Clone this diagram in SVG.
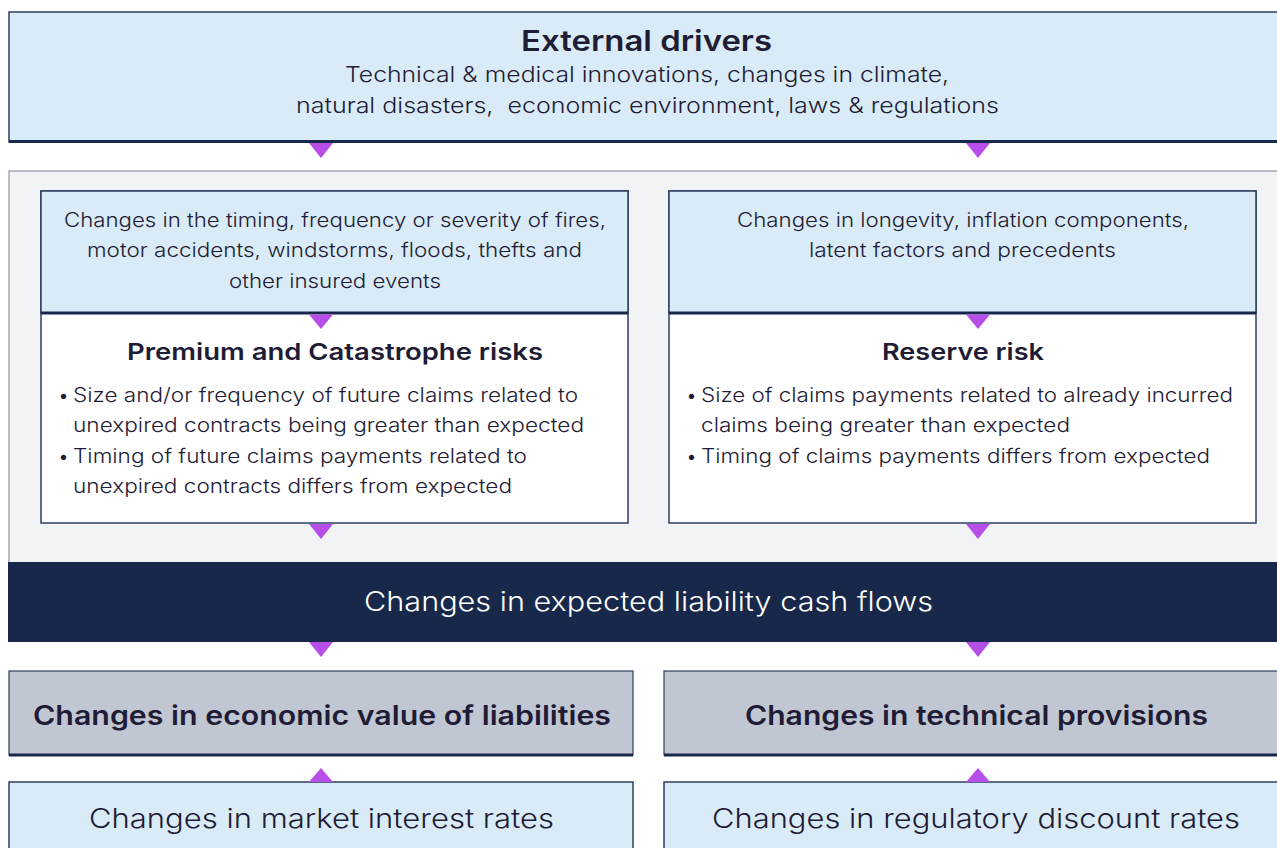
<svg xmlns="http://www.w3.org/2000/svg" width="1277" height="848" viewBox="0 0 1277 848">
<style>
text{font-family:Inter,"Open Sans","Liberation Sans",sans-serif;fill:#1f1c35;}
.body{font-size:19.5px;font-weight:300;}
.h{font-weight:600;}
.lb{fill:#d9ebf7;stroke:#2e3f60;stroke-width:1.5;}
.thick{stroke:#17284a;stroke-width:3;}
.arr{fill:#b84ee8;}
</style>
<rect width="1277" height="848" fill="#ffffff"/>
<g id="external-drivers">
<rect class="lb" x="9" y="12" width="1290" height="130"/>
<line class="thick" x1="9" y1="141.5" x2="1277" y2="141.5"/>
<text class="h" x="521" y="51" font-size="28" textLength="251" lengthAdjust="spacingAndGlyphs">External drivers</text>
<text x="345" y="82" font-size="22" font-weight="300" textLength="604" lengthAdjust="spacingAndGlyphs">Technical &amp; medical innovations, changes in climate,</text>
<text x="296" y="112.5" font-size="22" font-weight="300" textLength="703" lengthAdjust="spacingAndGlyphs" xml:space="preserve">natural disasters,  economic environment, laws &amp; regulations</text>
</g>
<g id="panel">
<rect x="9" y="171" width="1290" height="400" fill="#f2f3f5" stroke="#8d95a5" stroke-width="1.2"/>
</g>
<g id="premium-cat">
<rect x="41" y="191" width="587" height="332" fill="#ffffff" stroke="#2e3f60" stroke-width="1.5"/>
<rect class="lb" x="41" y="191" width="587" height="122"/>
<line class="thick" x1="41" y1="313" x2="628" y2="313"/>
<text class="body" x="64" y="227" textLength="542" lengthAdjust="spacingAndGlyphs">Changes in the timing, frequency or severity of fires,</text>
<text class="body" x="87" y="257" textLength="495" lengthAdjust="spacingAndGlyphs">motor accidents, windstorms, floods, thefts and</text>
<text class="body" x="229" y="288" textLength="212" lengthAdjust="spacingAndGlyphs">other insured events</text>
<text class="h" x="127" y="360" font-size="23" textLength="416" lengthAdjust="spacingAndGlyphs">Premium and Catastrophe risks</text>
<text class="body" x="58" y="402">•</text>
<text class="body" x="73" y="402" textLength="505" lengthAdjust="spacingAndGlyphs">Size and/or frequency of future claims related to</text>
<text class="body" x="73" y="432" textLength="511" lengthAdjust="spacingAndGlyphs">unexpired contracts being greater than expected</text>
<text class="body" x="58" y="463">•</text>
<text class="body" x="73" y="463" textLength="454" lengthAdjust="spacingAndGlyphs">Timing of future claims payments related to</text>
<text class="body" x="73" y="493" textLength="439" lengthAdjust="spacingAndGlyphs">unexpired contracts differs from expected</text>
</g>
<g id="reserve">
<rect x="669" y="191" width="587" height="332" fill="#ffffff" stroke="#2e3f60" stroke-width="1.5"/>
<rect class="lb" x="669" y="191" width="587" height="122"/>
<line class="thick" x1="669" y1="313" x2="1256" y2="313"/>
<text class="body" x="737" y="227" textLength="452" lengthAdjust="spacingAndGlyphs">Changes in longevity, inflation components,</text>
<text class="body" x="809" y="257" textLength="307" lengthAdjust="spacingAndGlyphs">latent factors and precedents</text>
<text class="h" x="882" y="360" font-size="23" textLength="162" lengthAdjust="spacingAndGlyphs">Reserve risk</text>
<text class="body" x="686" y="402">•</text>
<text class="body" x="701" y="402" textLength="532" lengthAdjust="spacingAndGlyphs">Size of claims payments related to already incurred</text>
<text class="body" x="701" y="432" textLength="369" lengthAdjust="spacingAndGlyphs">claims being greater than expected</text>
<text class="body" x="686" y="463">•</text>
<text class="body" x="701" y="463" textLength="509" lengthAdjust="spacingAndGlyphs">Timing of claims payments differs from expected</text>
</g>
<g id="cash-flows">
<rect x="8" y="562" width="1290" height="80" fill="#17284a"/>
<text x="364" y="611" font-size="27" font-weight="300" textLength="569" lengthAdjust="spacingAndGlyphs" style="fill:#ffffff">Changes in expected liability cash flows</text>
</g>
<g id="economic-value">
<rect x="9" y="671" width="624" height="84" fill="#c1c6d3" stroke="#2e3f60" stroke-width="1.2"/>
<line class="thick" x1="9" y1="755" x2="633" y2="755"/>
<text class="h" x="33" y="725" font-size="26.5" textLength="578" lengthAdjust="spacingAndGlyphs">Changes in economic value of liabilities</text>
</g>
<g id="technical-provisions">
<rect x="664" y="671" width="640" height="84" fill="#c1c6d3" stroke="#2e3f60" stroke-width="1.2"/>
<line class="thick" x1="664" y1="755" x2="1277" y2="755"/>
<text class="h" x="745" y="725" font-size="26.5" textLength="463" lengthAdjust="spacingAndGlyphs">Changes in technical provisions</text>
</g>
<g id="market-rates">
<rect class="lb" x="9" y="782" width="624" height="90" stroke-width="1.2"/>
<text x="89" y="828" font-size="27" font-weight="300" textLength="465" lengthAdjust="spacingAndGlyphs">Changes in market interest rates</text>
</g>
<g id="regulatory-rates">
<rect class="lb" x="664" y="782" width="640" height="90" stroke-width="1.2"/>
<text x="712" y="828" font-size="27" font-weight="300" textLength="528" lengthAdjust="spacingAndGlyphs">Changes in regulatory discount rates</text>
</g>
<g id="connectors">
<polygon class="arr" points="309,143 333,143 321,158"/>
<polygon class="arr" points="966,143 990,143 978,158"/>
<polygon class="arr" points="309,314.5 333,314.5 321,329"/>
<polygon class="arr" points="966,314.5 990,314.5 978,329"/>
<polygon class="arr" points="309,524 333,524 321,539"/>
<polygon class="arr" points="966,524 990,524 978,539"/>
<polygon class="arr" points="309,642 333,642 321,657"/>
<polygon class="arr" points="966,642 990,642 978,657"/>
<polygon class="arr" points="309,782 333,782 321,768"/>
<polygon class="arr" points="966,782 990,782 978,768"/>
</g>
</svg>
